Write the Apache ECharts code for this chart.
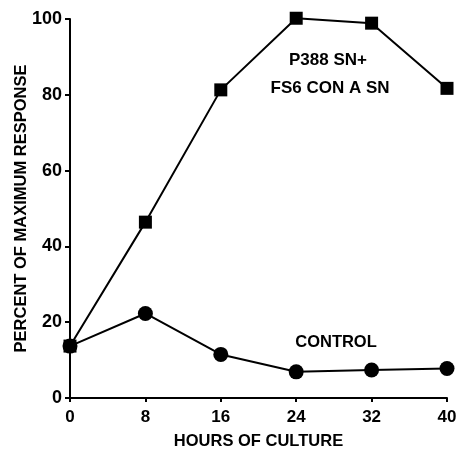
<!DOCTYPE html>
<html><head><meta charset="utf-8">
<script src="https://cdn.jsdelivr.net/npm/echarts@6/dist/echarts.min.js"></script>
<style>html,body{margin:0;padding:0;background:#fff}#c{width:459px;height:450px}</style>
</head><body><div id="c"></div>
<script>
var hours = [0, 8, 16, 24, 32, 40];
var treated = [13.7, 46.4, 81.3, 100.2, 98.9, 81.7];
var control = [13.7, 22.3, 11.5, 6.9, 7.4, 7.8];
var xTicks = [0, 8, 16, 24, 32, 40];
var yTicks = [0, 20, 40, 60, 80, 100];
var F = 'Liberation Sans';
function pairs(xs, ys){ return xs.map(function(x,i){return [x, ys[i]];}); }
var chart = echarts.init(document.getElementById('c'), null, {renderer:'canvas'});
chart.setOption({
  animation:false,
  backgroundColor:'#fff',
  grid:{left:70, right:12, top:19, bottom:52, containLabel:false, outerBoundsMode:'none'},
  xAxis:{type:'value', min:0, max:40, interval:8,
    name:'HOURS OF CULTURE', nameLocation:'middle', nameGap:35, nameMoveOverlap:false,
    nameTextStyle:{fontFamily:F, fontWeight:'bold', fontSize:16.5, color:'#000'},
    axisLine:{lineStyle:{color:'#000', width:2}},
    axisTick:{show:true, length:4, lineStyle:{color:'#000', width:2}},
    axisLabel:{fontFamily:F, fontWeight:'bold', fontSize:17, color:'#000', margin:11},
    splitLine:{show:false}},
  yAxis:{type:'value', min:0, max:100, interval:20,
    name:'PERCENT OF MAXIMUM RESPONSE', nameLocation:'middle', nameGap:40, nameMoveOverlap:false,
    nameTextStyle:{fontFamily:F, fontWeight:'bold', fontSize:16.5, color:'#000'},
    axisLine:{lineStyle:{color:'#000', width:2}},
    axisTick:{show:true, length:5, lineStyle:{color:'#000', width:2}},
    axisLabel:{fontFamily:F, fontWeight:'bold', fontSize:18, color:'#000', margin:8},
    splitLine:{show:false}},
  series:[
    {type:'line', data:pairs(hours, treated), symbol:'rect', symbolSize:13, clip:false,
     lineStyle:{color:'#000', width:2}, itemStyle:{color:'#000'}, z:3},
    {type:'line', data:pairs(hours, control), symbol:'circle', symbolSize:15, clip:false,
     lineStyle:{color:'#000', width:2}, itemStyle:{color:'#000'}, z:3}
  ],
  graphic:[
    {type:'text', x:328, y:60, style:{text:'P388 SN+', fontFamily:F, fontWeight:'bold', fontSize:17, fill:'#000', align:'center', verticalAlign:'middle'}},
    {type:'text', x:330, y:88, style:{text:'FS6 CON A SN', fontFamily:F, fontWeight:'bold', fontSize:17, fill:'#000', align:'center', verticalAlign:'middle'}},
    {type:'text', x:336, y:342, style:{text:'CONTROL', fontFamily:F, fontWeight:'bold', fontSize:16.5, fill:'#000', align:'center', verticalAlign:'middle'}}
  ]
});
</script></body></html>
